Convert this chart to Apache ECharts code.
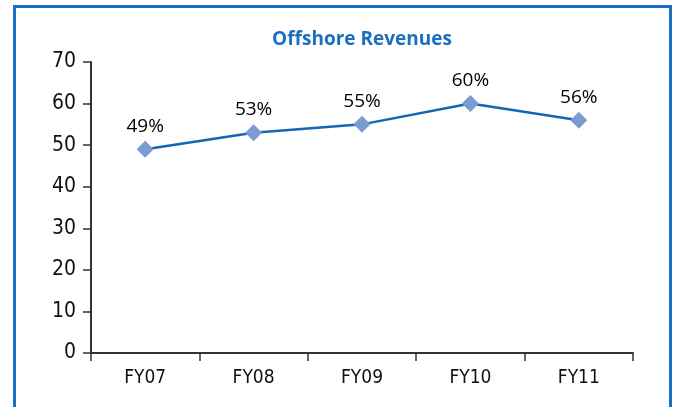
<!DOCTYPE html>
<html lang="en">
<head>
    <meta charset="UTF-8">
    <title>Offshore Revenues</title>
    <script src="https://cdn.jsdelivr.net/npm/echarts@6/dist/echarts.min.js"></script>
    <style>
        html, body { margin: 0; padding: 0; background: #fff; }
        #frame {
            position: absolute; left: 13px; top: 5px; width: 653px; height: 420px;
            border: 3px solid #1a6fc0; border-bottom: none;
        }
        #main { position: absolute; left: 0; top: 0; width: 673px; height: 407px; }
    </style>
</head>
<body>
<div id="frame"></div>
<div id="main"></div>
<script>
    // values
    let years = ['FY07', 'FY08', 'FY09', 'FY10', 'FY11'];
    let offshore = [49, 53, 55, 60, 56];

    let myChart = echarts.init(document.getElementById('main'));
    let axisFont = '"DejaVu Sans Condensed", "Liberation Sans Narrow", sans-serif';

    let option = {
        animation: false,
        title: {
            text: 'Offshore Revenues',
            left: 357,
            textAlign: 'center',
            top: 25,
            textStyle: {
                color: '#1a6fc0',
                fontSize: 19,
                fontWeight: 'bold',
                fontFamily: '"Open Sans", sans-serif'
            }
        },
        grid: { left: 91, right: 40, top: 62, bottom: 54 },
        xAxis: {
            type: 'category',
            data: years,
            boundaryGap: true,
            axisLine: { lineStyle: { color: '#333', width: 2 } },
            axisTick: { show: true, length: 8, lineStyle: { color: '#333', width: 1.5 } },
            axisLabel: { color: '#111', fontSize: 19, margin: 16, fontFamily: axisFont },
            splitLine: { show: false }
        },
        yAxis: {
            type: 'value',
            min: 0,
            max: 70,
            interval: 10,
            axisLine: { show: true, lineStyle: { color: '#333', width: 2 } },
            axisTick: { show: true, length: 8, lineStyle: { color: '#333', width: 1.5 } },
            axisLabel: { color: '#111', fontSize: 21, margin: 15, fontFamily: axisFont },
            splitLine: { show: false }
        },
        series: [{
            name: 'Offshore',
            type: 'line',
            data: offshore,
            symbol: 'diamond',
            symbolSize: 17,
            itemStyle: { color: '#7b9bd2' },
            lineStyle: { color: '#1565b5', width: 2.5 },
            label: {
                show: true,
                position: 'top',
                distance: 5,
                formatter: '{c}%',
                color: '#000',
                fontSize: 19,
                fontFamily: '"Open Sans", sans-serif'
            }
        }]
    };
    myChart.setOption(option);
</script>
</body>
</html>
